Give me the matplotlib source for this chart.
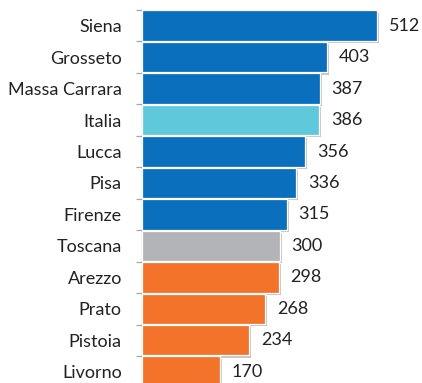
import matplotlib
matplotlib.use("Agg")
import matplotlib.pyplot as plt
import matplotlib.patheffects as pe
import numpy as np

provinces = ["Siena", "Grosseto", "Massa Carrara", "Italia", "Lucca", "Pisa",
             "Firenze", "Toscana", "Arezzo", "Prato", "Pistoia", "Livorno"]
values = [512, 403, 387, 386, 356, 336, 315, 300, 298, 268, 234, 170]
groups = ["high", "high", "high", "italy", "high", "high", "high",
          "tuscany", "low", "low", "low", "low"]

palette = {
    "high": "#0A6FBD",
    "italy": "#5FC9DB",
    "tuscany": "#B3B4B7",
    "low": "#F3732A",
}

W, H = 422, 383
fig = plt.figure(figsize=(W / 100, H / 100), dpi=100)

# axes runs a little past the bottom edge, so the last row is clipped
ax_left, ax_top = 142, 10
row_px = 31.45
ax_h = row_px * len(provinces)
ax_w = 260
ax = fig.add_axes([ax_left / W, (H - ax_top - ax_h) / H, ax_w / W, ax_h / H])

y = np.arange(len(provinces))
colors = [palette[g] for g in groups]
bars = ax.barh(y, values, height=0.97, color=colors, edgecolor="white",
               linewidth=0.9, zorder=3)
shadow = [pe.SimplePatchShadow(offset=(1.5, -1.5), shadow_rgbFace="#7f7f7f",
                               alpha=0.45), pe.Normal()]
for b in bars:
    b.set_path_effects(shadow)

for yi, v in zip(y, values):
    ax.annotate(f"{v}", xy=(v, yi), xytext=(8.5, 0), textcoords="offset points",
                ha="left", va="center", fontsize=13, family="Lato",
                color="#222222")

ax.set_ylim(len(provinces) - 0.5, -0.5)
ax.set_xlim(0, ax_w / 0.459)

ax.set_yticks(y)
ax.set_yticklabels(provinces, fontsize=13, family="Lato", color="#222222")
ax.tick_params(axis="y", which="major", length=0, pad=14.5)
ax.set_yticks(np.arange(-0.5, len(provinces), 1), minor=True)
ax.tick_params(axis="y", which="minor", length=4, width=0.9, color="#A6A6A6",
               direction="out")
ax.set_xticks([])

for side in ("top", "right", "bottom"):
    ax.spines[side].set_visible(False)
ax.spines["left"].set_color("#A6A6A6")
ax.spines["left"].set_linewidth(0.9)

fig.savefig("out.png", dpi=100)
